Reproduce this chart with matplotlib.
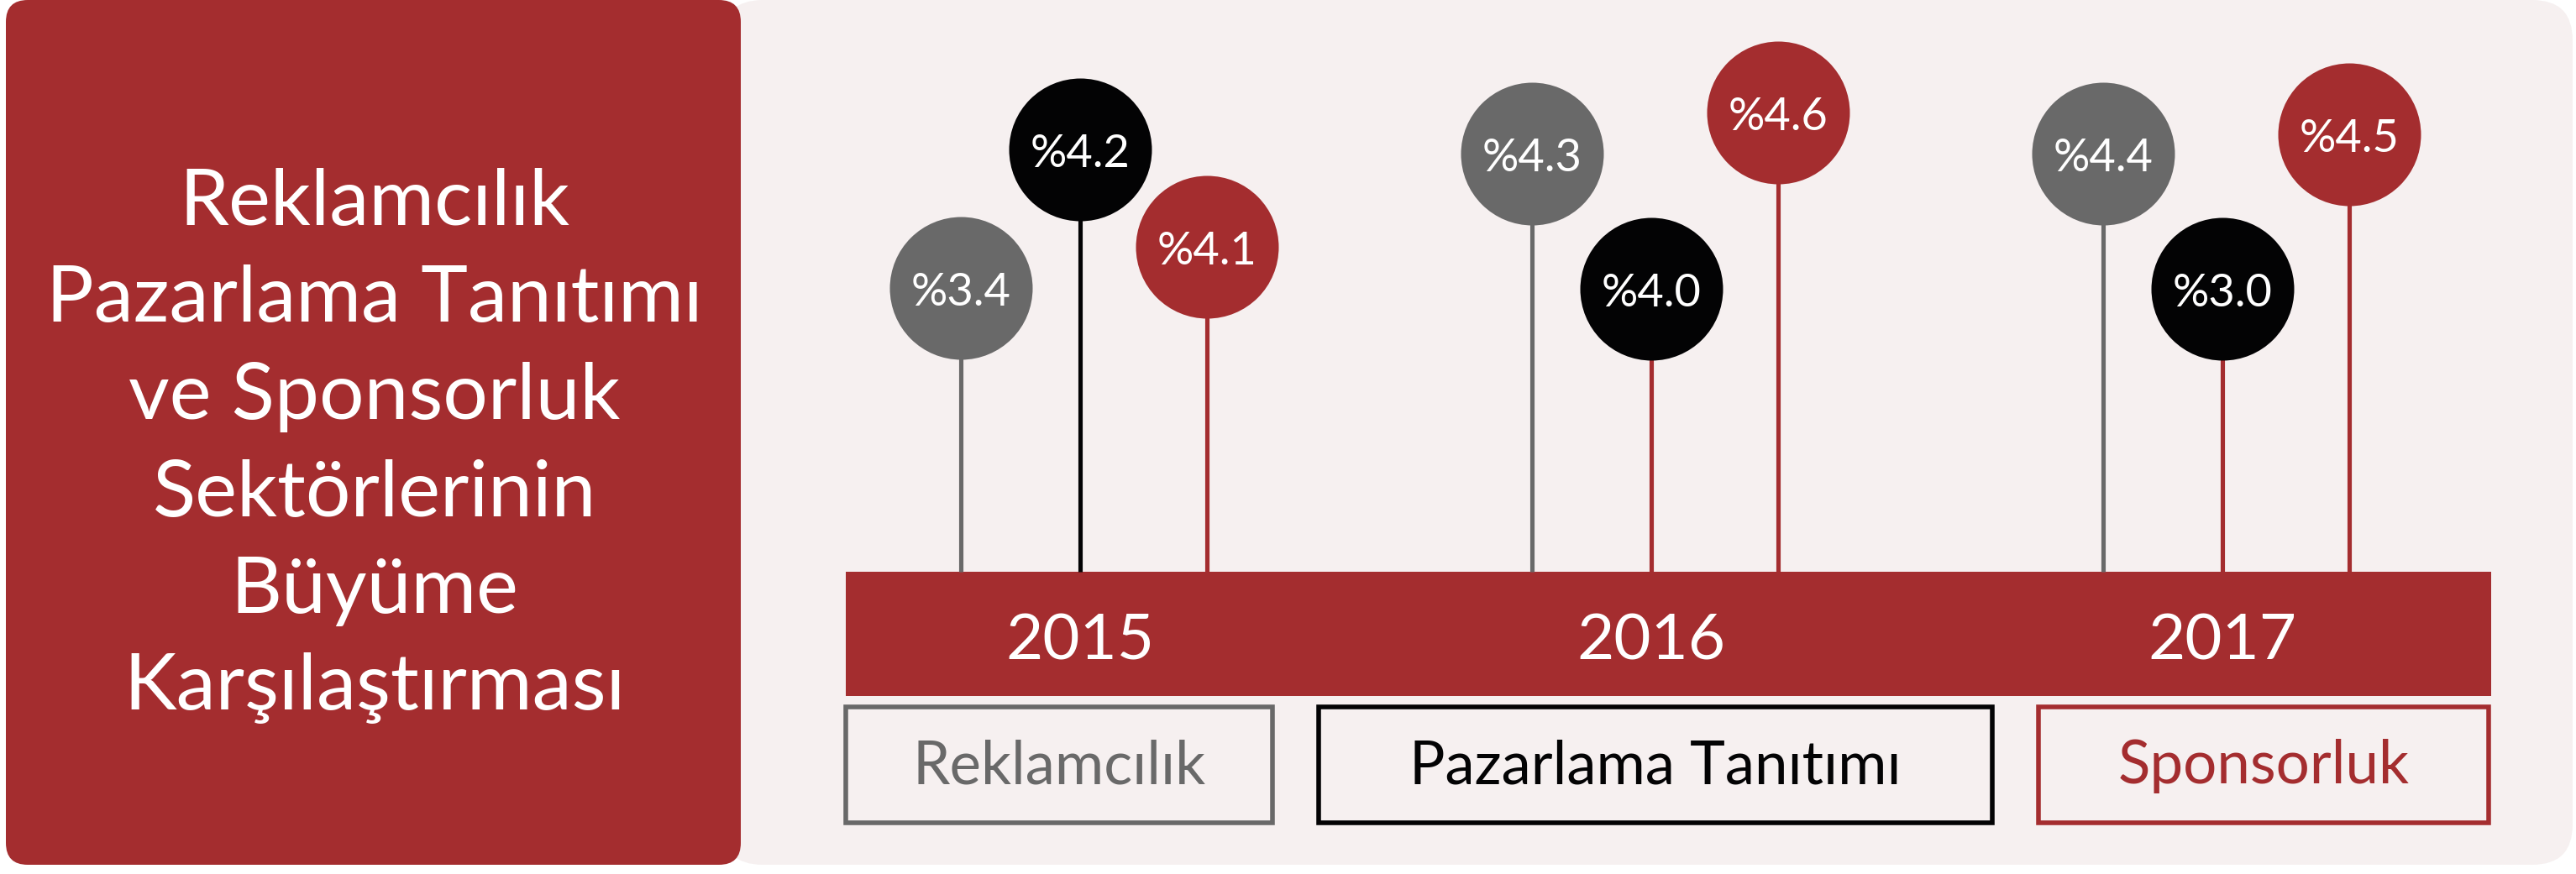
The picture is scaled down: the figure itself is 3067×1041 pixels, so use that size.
import matplotlib.pyplot as plt
from matplotlib.patches import FancyBboxPatch, Rectangle

plt.rcParams['font.family'] = ['Lato', 'DejaVu Sans']

# -----------------------------
# Data
# -----------------------------
years = ["2015", "2016", "2017"]
series = ["Reklamcılık", "Pazarlama Tanıtımı", "Sponsorluk"]
reklamcilik = [3.4, 4.3, 4.4]
pazarlama = [4.2, 4.0, 3.0]
sponsorluk = [4.1, 4.6, 4.5]
title_lines = ["Reklamcılık", "Pazarlama Tanıtımı", "ve Sponsorluk",
               "Sektörlerinin", "Büyüme", "Karşılaştırması"]

# -----------------------------
# Layout / style
# -----------------------------
RED = "#A42D2F"
GREY = "#696969"
BLACK = "#030304"
PINK = "#F6F0F0"
W, H = 3067, 1041

values = [reklamcilik, pazarlama, sponsorluk]
circle_colors = [GREY, BLACK, RED]
text_colors = [GREY, BLACK, RED]
offsets = [-0.209, 0.0, 0.222]          # position of each series inside a year
bar_top, bar_bottom = 681, 829
# how high each badge sits above the timeline bar (designer stagger)
badge_height = [[338, 498, 498],
                [503, 337, 337],
                [387, 547, 521]]
stem_colors = [[GREY, GREY, GREY],
               [BLACK, RED, RED],
               [RED, RED, RED]]
legend_boxes = [(1004, 1518), (1567, 2375), (2424, 2966)]

fig = plt.figure(figsize=(W / 100, H / 100), dpi=100)

# background panels in pixel coordinates
bg = fig.add_axes([0, 0, 1, 1])
bg.set_xlim(0, W)
bg.set_ylim(H, 0)
bg.axis("off")

bg.add_patch(FancyBboxPatch((860, 0), 3063 - 860, 1030,
                            boxstyle="round,pad=0,rounding_size=48",
                            fc=PINK, ec="none"))
bg.add_patch(FancyBboxPatch((7, 0), 875, 1030,
                            boxstyle="round,pad=0,rounding_size=26",
                            fc=RED, ec="none"))

for i, line in enumerate(title_lines):
    bg.text(446, 268 + i * 115.5, line, color="white", fontsize=68,
            ha="center", va="baseline")

# timeline bar
bg.add_patch(Rectangle((1007, bar_top), 2966 - 1007, bar_bottom - bar_top,
                       fc=RED, ec="none"))

# legend boxes
for (x0, x1), name, col in zip(legend_boxes, series, text_colors):
    bg.add_patch(Rectangle((x0 + 3, 842), x1 - x0 - 6, 138,
                           fc="none", ec=col, lw=4))
    bg.text((x0 + x1) / 2, 933, name, color=col, fontsize=51,
            ha="center", va="baseline")

# -----------------------------
# Lollipops: x in year units, y in pixels
# -----------------------------
ax = fig.add_axes([0, 0, 1, 1])
ax.set_xlim(-1285.7 / 680, 2 + (W - 2645.7) / 680)
ax.set_ylim(H, 0)
ax.axis("off")
ax.patch.set_alpha(0)

for s in range(len(series)):
    for g in range(len(years)):
        x = g + offsets[s]
        cy = bar_top - badge_height[s][g]
        ax.vlines(x, cy, bar_top, colors=stem_colors[s][g], lw=3.7, zorder=2)
        ax.scatter([x], [cy], s=122.4 ** 2, color=circle_colors[s],
                   linewidths=0, zorder=3)
        ax.text(x, cy + 21, "%" + f"{values[s][g]:.1f}", color="white",
                fontsize=39, ha="center", va="baseline", zorder=4)

for g, yr in enumerate(years):
    ax.text(g, 785, yr, color="white", fontsize=55, ha="center", va="baseline")

plt.savefig("out.png", dpi=100)
